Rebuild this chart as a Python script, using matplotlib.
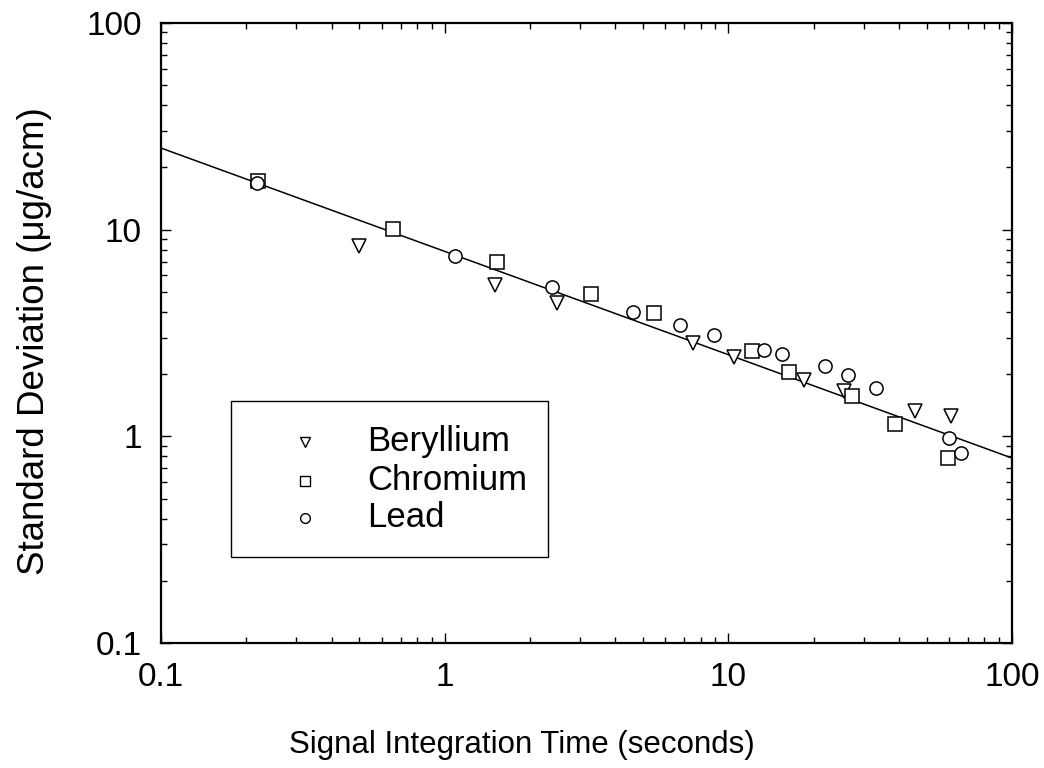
import matplotlib
matplotlib.use("Agg")
import matplotlib.pyplot as plt
import numpy as np
from matplotlib.patches import Rectangle
from matplotlib.ticker import LogLocator, FixedLocator, FixedFormatter, NullFormatter

plt.rcParams['font.family'] = ['Liberation Sans', 'DejaVu Sans']

# Measured standard deviation vs. signal integration time
beryllium_t = [0.50, 1.50, 2.49, 7.48, 10.5, 18.5, 25.6, 45.5, 60.8]
beryllium_sd = [8.34, 5.40, 4.43, 2.82, 2.41, 1.875, 1.66, 1.33, 1.26]

chromium_t = [0.219, 0.659, 1.53, 3.28, 5.48, 12.1, 16.4, 27.4, 38.6, 59.6]
chromium_sd = [17.1, 10.05, 6.95, 4.90, 3.97, 2.59, 2.04, 1.57, 1.15, 0.783]

lead_t = [0.218, 1.09, 2.40, 4.60, 6.75, 8.92, 13.35, 15.5, 22.0, 26.5, 33.1, 59.9, 66.2]
lead_sd = [16.9, 7.48, 5.26, 4.01, 3.46, 3.09, 2.63, 2.51, 2.19, 1.98, 1.72, 0.979, 0.834]

# Power-law fit: sd = coef * t ** exponent
fit_coef = 7.85
fit_exponent = -0.5

x_ticks = [0.1, 1, 10, 100]
x_tick_labels = ["0.1", "1", "10", "100"]
y_ticks = [0.1, 1, 10, 100]
y_tick_labels = ["0.1", "1", "10", "100"]

series_labels = ["Beryllium", "Chromium", "Lead"]
series_markers = ["v", "s", "o"]

fig = plt.figure(figsize=(10.44, 7.68), dpi=100)
ax = fig.add_axes([0.1542, 0.1628, 0.8151, 0.8073])

t_fit = np.logspace(-1, 2, 200)
ax.plot(t_fit, fit_coef * t_fit ** fit_exponent, color="black", lw=1.1)

mk = dict(linestyle="none", markerfacecolor="white", markeredgecolor="black",
          markeredgewidth=1.1, markersize=9.5, zorder=3)
ax.plot(beryllium_t, beryllium_sd, marker="v", **mk)
ax.plot(chromium_t, chromium_sd, marker="s", **mk)
ax.plot(lead_t, lead_sd, marker="o", **mk)

ax.set_xscale("log")
ax.set_yscale("log")
ax.set_xlim(0.1, 100)
ax.set_ylim(0.1, 100)

for axis, ticks, labels in ((ax.xaxis, x_ticks, x_tick_labels), (ax.yaxis, y_ticks, y_tick_labels)):
    axis.set_major_locator(FixedLocator(ticks))
    axis.set_major_formatter(FixedFormatter(labels))
    axis.set_minor_locator(LogLocator(base=10, subs=np.arange(2, 10)))
    axis.set_minor_formatter(NullFormatter())

ax.tick_params(which="both", direction="in", top=True, right=True, width=1.0, color="black")
ax.tick_params(which="major", length=7.5, labelsize=24, pad=14)
ax.tick_params(which="minor", length=4.5)
for s in ax.spines.values():
    s.set_linewidth(1.6)

ax.set_xlabel("Signal Integration Time (seconds)", fontsize=22.5)
ax.xaxis.set_label_coords(0.424, -0.140)
ax.set_ylabel("Standard Deviation (\u03bcg/acm)", fontsize=26.5)
ax.yaxis.set_label_coords(-0.128, 0.487)

# Legend drawn as a framed box in axes coordinates
ax.add_patch(Rectangle((0.0823, 0.1387), 0.3725, 0.2516, transform=ax.transAxes,
                       facecolor="white", edgecolor="black", lw=1.0, zorder=4))
row_y = [0.3242, 0.2613, 0.2016]
for lab, m, yy in zip(series_labels, series_markers, row_y):
    ax.plot([0.1692], [yy], marker=m, linestyle="none", markerfacecolor="white",
            markeredgecolor="black", markeredgewidth=1.0, markersize=7,
            transform=ax.transAxes, zorder=5)
    ax.text(0.2421, yy, lab, transform=ax.transAxes, fontsize=25,
            ha="left", va="center", zorder=5)

fig.savefig("out.png", dpi=100)
